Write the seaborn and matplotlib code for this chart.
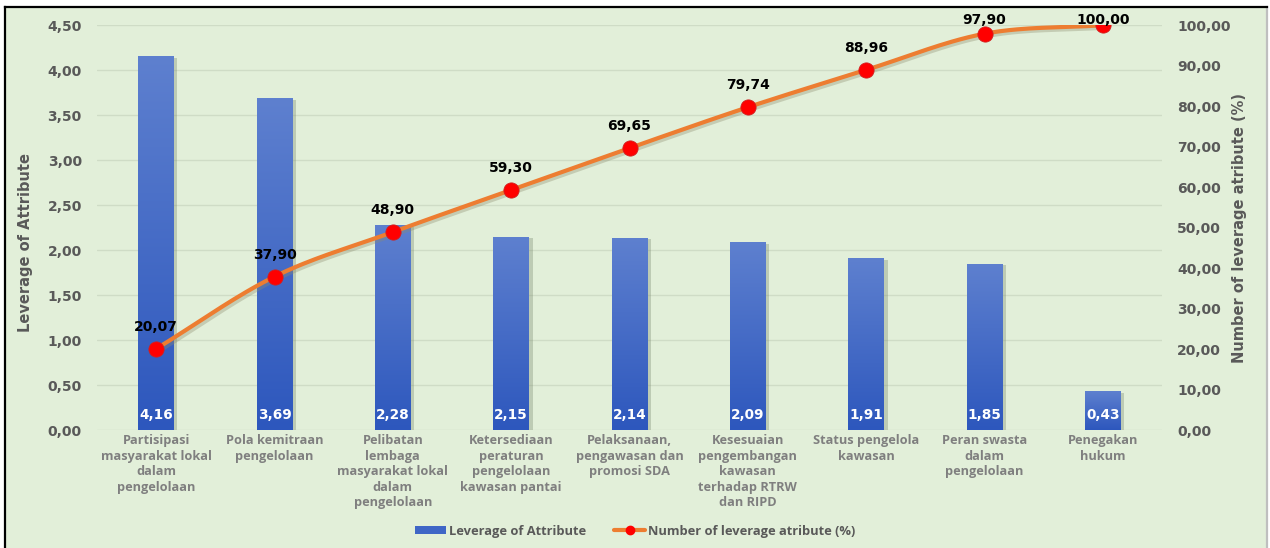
import numpy as np
import pandas as pd
import matplotlib
matplotlib.use("Agg")
import matplotlib.pyplot as plt
import seaborn as sns
from matplotlib.lines import Line2D
from matplotlib.patches import Patch
from matplotlib.ticker import FuncFormatter, MultipleLocator

categories = [
    "Partisipasi\nmasyarakat lokal\ndalam\npengelolaan",
    "Pola kemitraan\npengelolaan",
    "Pelibatan\nlembaga\nmasyarakat lokal\ndalam\npengelolaan",
    "Ketersediaan\nperaturan\npengelolaan\nkawasan pantai",
    "Pelaksanaan,\npengawasan dan\npromosi SDA",
    "Kesesuaian\npengembangan\nkawasan\nterhadap RTRW\ndan RIPD",
    "Status pengelola\nkawasan",
    "Peran swasta\ndalam\npengelolaan",
    "Penegakan\nhukum",
]
leverage = [4.16, 3.69, 2.28, 2.15, 2.14, 2.09, 1.91, 1.85, 0.43]
cumulative_pct = [20.07, 37.90, 48.90, 59.30, 69.65, 79.74, 88.96, 97.90, 100.00]

bar_label = "Leverage of Attribute"
line_label = "Number of leverage atribute (%)"

BG = "#E2EFD9"
GRID = "#CFDCC6"
TICK = "#595959"
CAT = "#7F7F7F"
BAR_TOP = "#5E80CF"
BAR_BOT = "#2D57BD"
LINE = "#ED7D31"
MARK = "#FF0000"
NUM_FONT = ["DejaVu Sans"]
TXT_FONT = ["Open Sans", "DejaVu Sans"]


def comma(v, p=None):
    return f"{v:.2f}".replace(".", ",")


sns.set_theme(style="white")
plt.rcParams["font.family"] = NUM_FONT

fig = plt.figure(figsize=(12.7, 5.48), dpi=100, facecolor="white")
# chart background panel with frame
panel = fig.add_axes([0.004, 0.0, 0.994, 0.987])
panel.set_facecolor(BG)
panel.set_xticks([])
panel.set_yticks([])
for side, sp in panel.spines.items():
    sp.set_visible(side in ("left", "top", "right"))
    sp.set_color("black" if side != "right" else "#BFBFBF")
    sp.set_linewidth(1.6)
panel.set_zorder(0)

ax = fig.add_axes([0.0764, 0.2153, 0.8386, 0.7387])
ax.set_facecolor("none")
ax.set_zorder(2)

df = pd.DataFrame({"attr": categories, "lev": leverage})
sns.barplot(data=df, x="attr", y="lev", ax=ax, color=BAR_BOT, width=0.3,
            saturation=1, edgecolor="none", zorder=3)

ax.set_xlim(-0.5, len(categories) - 0.5)
ax.set_ylim(0, 4.5)
ax.yaxis.set_major_locator(MultipleLocator(0.5))
ax.yaxis.set_major_formatter(FuncFormatter(comma))
ax.grid(axis="y", color=GRID, linewidth=1.0, zorder=0)
ax.set_axisbelow(True)
for sp in ax.spines.values():
    sp.set_visible(False)
ax.tick_params(axis="y", length=0, pad=11, labelsize=10, labelcolor=TICK)
ax.tick_params(axis="x", length=0, pad=3, labelsize=9.2, labelcolor=CAT)
for t in ax.get_yticklabels():
    t.set_fontweight("bold")
for t in ax.get_xticklabels():
    t.set_fontweight("bold")
    t.set_family(TXT_FONT)
    t.set_linespacing(1.25)
ax.set_xlabel("")
ax.set_ylabel(bar_label, fontsize=10.5, fontweight="bold", color=TICK)
ax.yaxis.set_label_coords(-0.060, 0.464)

# vertical gradient fill for each bar
grad = np.linspace(0, 1, 256).reshape(-1, 1)
cmap = matplotlib.colors.LinearSegmentedColormap.from_list("barfill", [BAR_BOT, BAR_TOP])
for patch in list(ax.patches):
    x0, y0 = patch.get_x(), patch.get_y()
    w, h = patch.get_width(), patch.get_height()
    # soft drop shadow on the right
    ax.add_patch(plt.Rectangle((x0 + 0.03, y0), w, h - 0.02, color="#7A8A70",
                               alpha=0.35, zorder=2.5, linewidth=0))
    im = ax.imshow(grad, extent=[x0, x0 + w, y0, y0 + h], origin="lower",
                   cmap=cmap, aspect="auto", zorder=3.5)
    im.set_clip_path(patch)
    patch.set_facecolor("none")
ax.set_xlim(-0.5, len(categories) - 0.5)
ax.set_ylim(0, 4.5)

for i, v in enumerate(leverage):
    ax.text(i, 0.165, comma(v), ha="center", va="center",
            color="white", fontsize=9.8, fontweight="bold", zorder=5)

# cumulative percentage on the secondary axis
ax2 = ax.twinx()
ax2.set_zorder(3)
ax2.set_ylim(0, 100)
ax2.yaxis.set_major_locator(MultipleLocator(10))
ax2.yaxis.set_major_formatter(FuncFormatter(comma))
for sp in ax2.spines.values():
    sp.set_visible(False)
ax2.tick_params(axis="y", length=0, pad=11, labelsize=10, labelcolor=TICK)
for t in ax2.get_yticklabels():
    t.set_fontweight("bold")
ax2.set_ylabel(line_label, fontsize=10.5, fontweight="bold", color=TICK)
ax2.yaxis.set_label_coords(1.066, 0.5)
ax2.grid(False)

# Catmull-Rom smoothing between the cumulative points
xs = np.arange(len(cumulative_pct), dtype=float)
ys = np.array(cumulative_pct, dtype=float)
px = np.concatenate([[2 * xs[0] - xs[1]], xs, [2 * xs[-1] - xs[-2]]])
py = np.concatenate([[2 * ys[0] - ys[1]], ys, [2 * ys[-1] - ys[-2]]])
sx, sy = [], []
t = np.linspace(0, 1, 30)
for k in range(1, len(px) - 2):
    p0, p1, p2, p3 = [np.array([px[j], py[j]]) for j in (k - 1, k, k + 1, k + 2)]
    for tt in t:
        pt = 0.5 * ((2 * p1) + (-p0 + p2) * tt + (2 * p0 - 5 * p1 + 4 * p2 - p3) * tt ** 2
                    + (-p0 + 3 * p1 - 3 * p2 + p3) * tt ** 3)
        sx.append(pt[0])
        sy.append(pt[1])
ax2.plot(np.array(sx) + 0.02, np.array(sy) - 0.5, color="#8C8C6E", alpha=0.35,
         linewidth=3.5, zorder=3, solid_capstyle="round")
ax2.plot(sx, sy, color=LINE, linewidth=3, zorder=4, solid_capstyle="round")

pts = pd.DataFrame({"x": xs, "pct": ys})
sns.scatterplot(data=pts, x="x", y="pct", ax=ax2, color=MARK, s=120,
                edgecolor="#D02020", linewidth=0.6, zorder=5, legend=False)
ax2.set_xlabel("")
ax2.set_xlim(-0.5, len(categories) - 0.5)
ax2.set_ylim(0, 100)

# value labels sit above each marker but never rise past the top of the plot
for i, v in enumerate(cumulative_pct):
    ax2.text(i, min(v + 5.4, 101.2), comma(v), ha="center", va="center",
             color="black", fontsize=10, fontweight="bold", zorder=6)

handles = [
    Patch(facecolor="#3F66C6", edgecolor="none"),
    Line2D([0], [0], color=LINE, linewidth=3, marker="o", markersize=6,
           markerfacecolor=MARK, markeredgecolor=MARK),
]
leg = fig.legend(handles, [bar_label, line_label], loc="center",
                 bbox_to_anchor=(0.5, 0.031), ncol=2, frameon=False,
                 prop={"family": TXT_FONT, "weight": "bold", "size": 9.3},
                 handlelength=2.4, handleheight=0.5,
                 handletextpad=0.2, columnspacing=2.2)
for txt in leg.get_texts():
    txt.set_color(TICK)

fig.savefig("out.png", dpi=100, facecolor="white")
